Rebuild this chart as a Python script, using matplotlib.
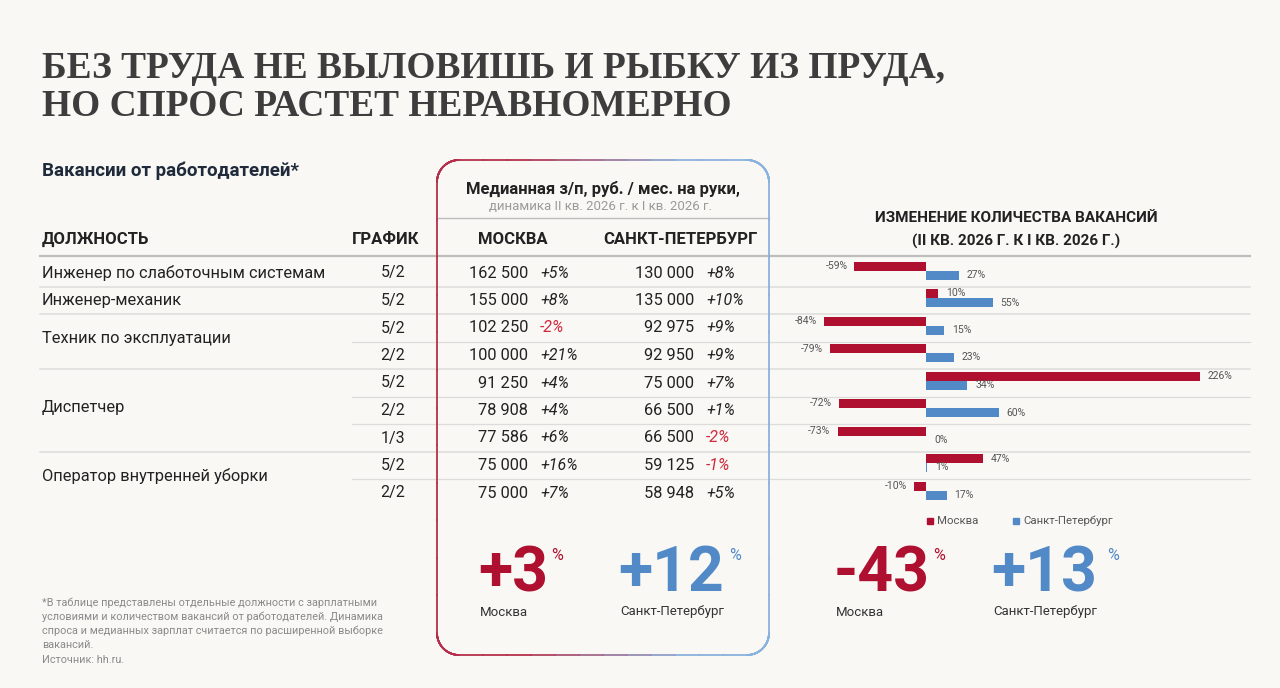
import numpy as np
import matplotlib
matplotlib.use("Agg")
import matplotlib.pyplot as plt
from matplotlib.collections import LineCollection
from matplotlib.patches import Rectangle
from matplotlib.colors import to_rgb

plt.rcParams['font.family'] = ['Roboto', 'DejaVu Sans']

# ---- data ----
positions = ['Инженер по слаботочным системам', 'Инженер-механик',
             'Техник по эксплуатации', 'Диспетчер', 'Оператор внутренней уборки']
group_sizes = [1, 1, 2, 3, 2]
schedules = ['5/2', '5/2', '5/2', '2/2', '5/2', '2/2', '1/3', '5/2', '2/2']
msk_salary = [162500, 155000, 102250, 100000, 91250, 78908, 77586, 75000, 75000]
msk_salary_chg = [5, 8, -2, 21, 4, 4, 6, 16, 7]
spb_salary = [130000, 135000, 92975, 92950, 75000, 66500, 66500, 59125, 58948]
spb_salary_chg = [8, 10, 9, 9, 7, 1, -2, -1, 5]
msk_vac_chg = [-59, 10, -84, -79, 226, -72, -73, 47, -10]
spb_vac_chg = [27, 55, 15, 23, 34, 60, 0, 1, 17]
salary_total = {'Москва': 3, 'Санкт-Петербург': 12}
vacancy_total = {'Москва': -43, 'Санкт-Петербург': 13}

BG = '#f9f8f5'
RED = '#b0102f'
BLUE = '#5289c7'
NEG = '#d0283c'
DARK = '#222222'
GRID = '#dcdcdc'

fig = plt.figure(figsize=(12.8, 6.88), dpi=100, facecolor=BG)
ax = fig.add_axes([0, 0, 1, 1])
ax.set_xlim(0, 1280)
ax.set_ylim(688, 0)
ax.axis('off')
ax.set_facecolor(BG)

def fmt(v):
    return f"{v:,}".replace(',', ' ')

# ---- title ----
t1 = ax.text(42, 78, 'БЕЗ ТРУДА НЕ ВЫЛОВИШЬ И РЫБКУ ИЗ ПРУДА,', family='Liberation Serif',
             weight='bold', fontsize=30, color='#3d3d3d', va='baseline')
t2 = ax.text(42, 116, 'НО СПРОС РАСТЕТ НЕРАВНОМЕРНО', family='Liberation Serif',
             weight='bold', fontsize=30, color='#3d3d3d', va='baseline')
fig.canvas.draw()
w = t1.get_window_extent().width
fs = 30 * 903 / w
t1.set_fontsize(fs)
t2.set_fontsize(fs)

ax.text(42, 171, 'Вакансии от работодателей*', weight='bold', fontsize=13.5,
        color='#1f2a3a', va='center')

# ---- headers ----
ax.text(42, 239, 'ДОЛЖНОСТЬ', weight='bold', fontsize=12, color=DARK, va='center')
ax.text(386, 239, 'ГРАФИК', weight='bold', fontsize=12, color=DARK, va='center', ha='center')
ax.text(513, 239, 'МОСКВА', weight='bold', fontsize=12, color=DARK, va='center', ha='center')
ax.text(680, 239, 'САНКТ-ПЕТЕРБУРГ', weight='bold', fontsize=12, color=DARK, va='center', ha='center')
ax.text(603, 189, 'Медианная з/п, руб. / мес. на руки,', weight='bold', fontsize=12,
        color=DARK, va='center', ha='center')
ax.text(601, 207, 'динамика II кв. 2026 г. к I кв. 2026 г.', fontsize=9.5,
        color='#9a9a9a', va='center', ha='center')
ax.plot([437, 769], [218, 218], color='#bdbdbd', lw=1)
ax.plot([40, 1250], [256, 256], color='#bdbdbd', lw=1.6)

ax.text(1016, 218, 'ИЗМЕНЕНИЕ КОЛИЧЕСТВА ВАКАНСИЙ', weight='bold', fontsize=11,
        color=DARK, va='center', ha='center')
ax.text(1016, 241, '(II КВ. 2026 Г. К I КВ. 2026 Г.)', weight='bold', fontsize=11,
        color=DARK, va='center', ha='center')

# ---- table rows ----
y0, step = 273, 27.5
row_y = [y0 + i * step for i in range(len(schedules))]
start = 0
for name, n in zip(positions, group_sizes):
    ys = row_y[start:start + n]
    ax.text(42, np.mean(ys) - 3 if n > 1 else ys[0], name, fontsize=11.8,
            color=DARK, va='center')
    for k in range(n - 1):
        yl = ys[k] + step / 2
        ax.plot([352, 1250], [yl, yl], color=GRID, lw=0.9)
    if start + n < len(schedules):
        yl = ys[-1] + step / 2
        ax.plot([40, 1250], [yl, yl], color=GRID, lw=1.1)
    start += n

for i, y in enumerate(row_y):
    ax.text(393, y, schedules[i], fontsize=11.5, color=DARK, va='center', ha='center')
    ax.text(528, y, fmt(msk_salary[i]), fontsize=11.8, color=DARK, va='center', ha='right')
    ax.text(540, y, f"{msk_salary_chg[i]:+d}%", fontsize=11.5, style='italic',
            color=NEG if msk_salary_chg[i] < 0 else DARK, va='center')
    ax.text(694, y, fmt(spb_salary[i]), fontsize=11.8, color=DARK, va='center', ha='right')
    ax.text(706, y, f"{spb_salary_chg[i]:+d}%", fontsize=11.5, style='italic',
            color=NEG if spb_salary_chg[i] < 0 else DARK, va='center')

# ---- gradient rounded box ----
bx0, bx1, by0, by1, r = 437, 769, 160, 655, 22
pts = []
def arc(cx, cy, a0, a1):
    for a in np.linspace(a0, a1, 20):
        pts.append((cx + r * np.cos(a), cy + r * np.sin(a)))
arc(bx0 + r, by0 + r, np.pi, 1.5 * np.pi)
arc(bx1 - r, by0 + r, 1.5 * np.pi, 2 * np.pi)
arc(bx1 - r, by1 - r, 0, 0.5 * np.pi)
arc(bx0 + r, by1 - r, 0.5 * np.pi, np.pi)
pts.append(pts[0])
pts = np.array(pts)
# densify so the colour can change along straight edges
dense = []
for a, b in zip(pts[:-1], pts[1:]):
    for t in np.linspace(0, 1, 12, endpoint=False):
        dense.append(a + (b - a) * t)
dense.append(pts[-1])
dense = np.array(dense)
segs = np.stack([dense[:-1], dense[1:]], axis=1)
c_red, c_blue = np.array(to_rgb('#b5304a')), np.array(to_rgb('#8ab2de'))
tt = np.clip((segs[:, :, 0].mean(axis=1) - bx0) / (bx1 - bx0), 0, 1)
tt = np.clip((tt - 0.25) / 0.5, 0, 1)
cols = [tuple(c_red * (1 - t) + c_blue * t) for t in tt]
ax.add_collection(LineCollection(segs, colors=cols, lw=1.3, capstyle='round'))

# ---- bar chart ----
zero_px, px_per = 926, 1.212
bax = fig.add_axes([800 / 1280, 0, 450 / 1280, 1])
bax.set_xlim((800 - zero_px) / px_per, (1250 - zero_px) / px_per)
bax.set_ylim(688, 0)
bax.axis('off')
bax.patch.set_alpha(0)
h = 9
msk_y = [y - 7 for y in row_y]
spb_y = [y + 2 for y in row_y]
bax.barh(msk_y, msk_vac_chg, height=h, color=RED)
bax.barh(spb_y, spb_vac_chg, height=h, color=BLUE)
for vals, ys in [(msk_vac_chg, msk_y), (spb_vac_chg, spb_y)]:
    for v, y in zip(vals, ys):
        off = -7 if v < 0 else 8
        bax.annotate(f"{v}%", xy=(v, y), xytext=(off, 0), textcoords='offset pixels',
                     ha='right' if v < 0 else 'left', va='center', fontsize=7.5,
                     color='#555555')

# legend
ax.add_patch(Rectangle((927, 518), 6, 6, color=RED))
ax.text(937, 521, 'Москва', fontsize=8.2, color='#555555', va='center')
ax.add_patch(Rectangle((1013, 518), 6, 6, color=BLUE))
ax.text(1023, 521, 'Санкт-Петербург', fontsize=8.2, color='#555555', va='center')

# ---- big totals ----
def big(x, value, color, label, pct_dx):
    t = ax.text(x, 591, f"{value:+d}", weight='bold', fontsize=45, color=color,
                va='baseline')
    fig.canvas.draw()
    bb = t.get_window_extent()
    ax.text(bb.x1 + pct_dx, 548, '%', fontsize=11.5, color=color, va='top')
    ax.text(x + 2, 612, label, fontsize=9.5, color='#333333', va='center')

big(478, salary_total['Москва'], RED, 'Москва', 3)
big(618, salary_total['Санкт-Петербург'], BLUE, 'Санкт-Петербург', 5)
big(834, vacancy_total['Москва'], RED, 'Москва', 3)
big(991, vacancy_total['Санкт-Петербург'], BLUE, 'Санкт-Петербург', 10)

# ---- footnote ----
foot = ['*В таблице представлены отдельные должности с зарплатными',
        'условиями и количеством вакансий от работодателей. Динамика',
        'спроса и медианных зарплат считается по расширенной выборке',
        'вакансий.']
for i, line in enumerate(foot):
    ax.text(42, 603 + i * 14, line, fontsize=7.8, color='#8a8a8a', va='center')
ax.text(42, 660, 'Источник: hh.ru.', fontsize=7.8, color='#8a8a8a', va='center')

fig.savefig('out.png', dpi=100, facecolor=BG)
